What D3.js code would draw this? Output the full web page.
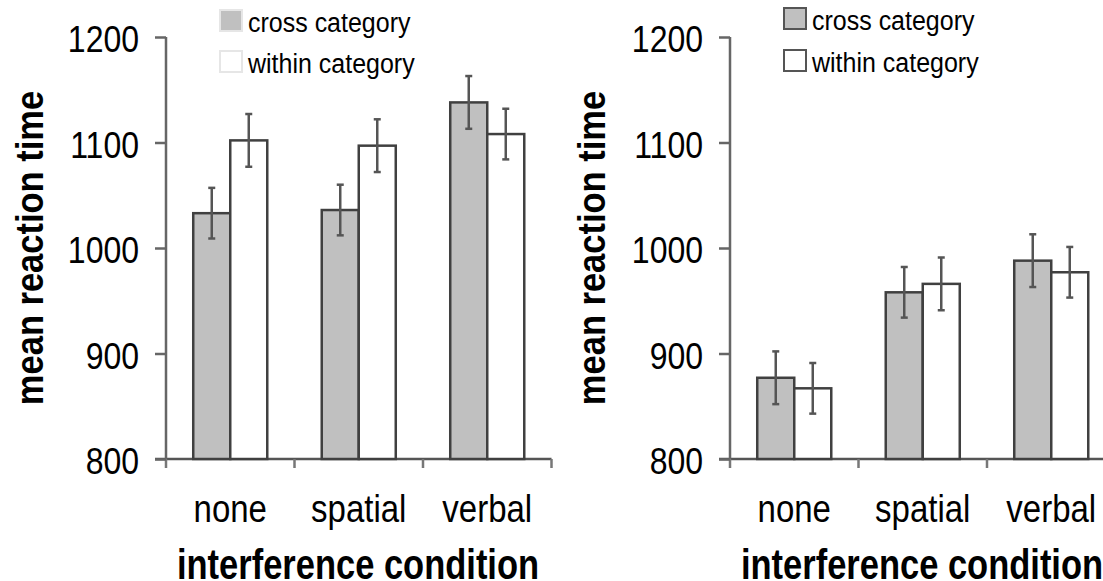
<!DOCTYPE html>
<html>
<head>
<meta charset="utf-8">
<script src="https://cdn.jsdelivr.net/npm/d3@7"></script>
<style>
  body { margin: 0; background: #fff; }
  svg { display: block; font-family: "Liberation Sans", Arial, sans-serif; }
</style>
</head>
<body>
<svg id="chart" width="1103" height="581"></svg>
<script>
const conditions = ["none", "spatial", "verbal"];
const series = ["cross category", "within category"];
const yTicks = [800, 900, 1000, 1100, 1200];

// left panel
const leftCross = [1033, 1036, 1138];
const leftWithin = [1102, 1097, 1108];
const leftCrossErr = [24, 24, 25];
const leftWithinErr = [25, 25, 24];

// right panel
const rightCross = [877, 958, 988];
const rightWithin = [867, 966, 977];
const rightCrossErr = [25, 24, 25];
const rightWithinErr = [24, 25, 24];

const svg = d3.select('#chart');
const fills = ['#c0c0c0', '#ffffff'];

const y = d3.scaleLinear().domain([800, 1200]).range([459, 37]);

// text in the picture is drawn a bit taller than the font, so stretch it
function stretched(sel, x, yy, sy, extra) {
    return sel.append('text')
        .attr('transform', 'translate(' + x + ',' + yy + ')' + (extra || '') + ' scale(1,' + sy + ')');
}

function panel(ax, cross, within, crossErr, withinErr, legendBoxStroke, legendX, legendBase, yLabelX) {
    var g = svg.append('g');
    var x0 = d3.scaleBand()
        .domain(conditions)
        .range([ax, ax + 3 * 128.5])
        .paddingInner(0.424)
        .paddingOuter(0.212);
    var x1 = d3.scaleBand()
        .domain(series)
        .range([0, x0.bandwidth()]);

    var rows = conditions.map(function(c, i) {
        return [
            {cond: c, s: series[0], v: cross[i], e: crossErr[i]},
            {cond: c, s: series[1], v: within[i], e: withinErr[i]}
        ];
    });

    // x axis line and band boundary ticks
    g.append('line')
        .attr('x1', ax - 11).attr('x2', ax + 3 * 128.5)
        .attr('y1', y(800)).attr('y2', y(800))
        .attr('stroke', '#555').attr('stroke-width', 2.5);
    [0, 1, 2, 3].forEach(function(k) {
        var xx = k < 3 ? x0(conditions[k]) - x0.step() * 0.212 : ax + 3 * 128.5;
        g.append('line')
            .attr('x1', xx).attr('x2', xx)
            .attr('y1', y(800)).attr('y2', y(800) + 9)
            .attr('stroke', '#777').attr('stroke-width', 2.5);
    });

    // bars
    var grp = g.selectAll('.grp').data(rows).enter().append('g')
        .attr('transform', function(d) { return 'translate(' + x0(d[0].cond) + ',0)'; });
    grp.selectAll('rect').data(function(d) { return d; }).enter().append('rect')
        .attr('x', function(d) { return x1(d.s); })
        .attr('y', function(d) { return y(d.v); })
        .attr('width', x1.bandwidth())
        .attr('height', function(d) { return y(800) - y(d.v); })
        .attr('fill', function(d, i) { return fills[i]; })
        .attr('stroke', '#404040').attr('stroke-width', 2.5);

    // error bars
    var eb = grp.selectAll('.eb').data(function(d) { return d; }).enter().append('g')
        .attr('transform', function(d) { return 'translate(' + (x1(d.s) + x1.bandwidth() / 2) + ',0)'; });
    eb.append('line')
        .attr('y1', function(d) { return y(d.v + d.e); })
        .attr('y2', function(d) { return y(d.v - d.e); })
        .attr('stroke', '#555').attr('stroke-width', 2.5);
    [1, -1].forEach(function(sgn) {
        eb.append('line')
            .attr('x1', -3.5).attr('x2', 3.5)
            .attr('y1', function(d) { return y(d.v + sgn * d.e); })
            .attr('y2', function(d) { return y(d.v + sgn * d.e); })
            .attr('stroke', '#555').attr('stroke-width', 2.5);
    });

    // y axis
    var yAxis = g.append('g')
        .attr('transform', 'translate(' + ax + ',0)')
        .call(d3.axisLeft(y).tickValues(yTicks).tickSize(11).tickPadding(16).tickFormat(d3.format('d')));
    yAxis.select('.domain').attr('stroke', '#666').attr('stroke-width', 2.5)
        .attr('d', 'M0,' + y(1200) + 'V' + y(800));
    yAxis.selectAll('.tick line').attr('stroke', '#666').attr('stroke-width', 2.5);
    yAxis.selectAll('.tick text')
        .attr('font-size', 32).attr('fill', '#000')
        .attr('font-family', '"Liberation Sans", Arial, sans-serif')
        .attr('x', null).attr('dy', null).attr('y', 12.5)
        .attr('transform', 'translate(-27,0) scale(1,1.16)');

    // category labels
    conditions.forEach(function(c) {
        stretched(g, x0(c) + x0.bandwidth() / 2, 522, 1.17)
            .attr('text-anchor', 'middle')
            .attr('font-size', 33)
            .text(c);
    });

    stretched(g, ax + 192, 579, 1.22)
        .attr('text-anchor', 'middle')
        .attr('font-size', 34.5).attr('font-weight', 'bold')
        .text('interference condition');

    stretched(g, yLabelX, 248, 1.15, ' rotate(-90)')
        .attr('text-anchor', 'middle')
        .attr('font-size', 34.5).attr('font-weight', 'bold')
        .text('mean reaction time');

    // legend
    var lg = g.append('g').attr('transform', 'translate(' + legendX + ',0)');
    series.forEach(function(s, i) {
        var yy = i === 0 ? legendBase[0] : legendBase[1];
        lg.append('rect')
            .attr('x', 0).attr('y', yy - 22).attr('width', 22).attr('height', 21)
            .attr('fill', fills[i])
            .attr('stroke', legendBoxStroke).attr('stroke-width', 2);
        stretched(lg, 28, yy, 1.13)
            .attr('font-size', 25)
            .text(s);
    });
}

panel(166, leftCross, leftWithin, leftCrossErr, leftWithinErr, '#e6e6e6', 220, [32, 73], 43);
panel(730, rightCross, rightWithin, rightCrossErr, rightWithinErr, '#555', 784, [30, 72], 605);
</script>
</body>
</html>
